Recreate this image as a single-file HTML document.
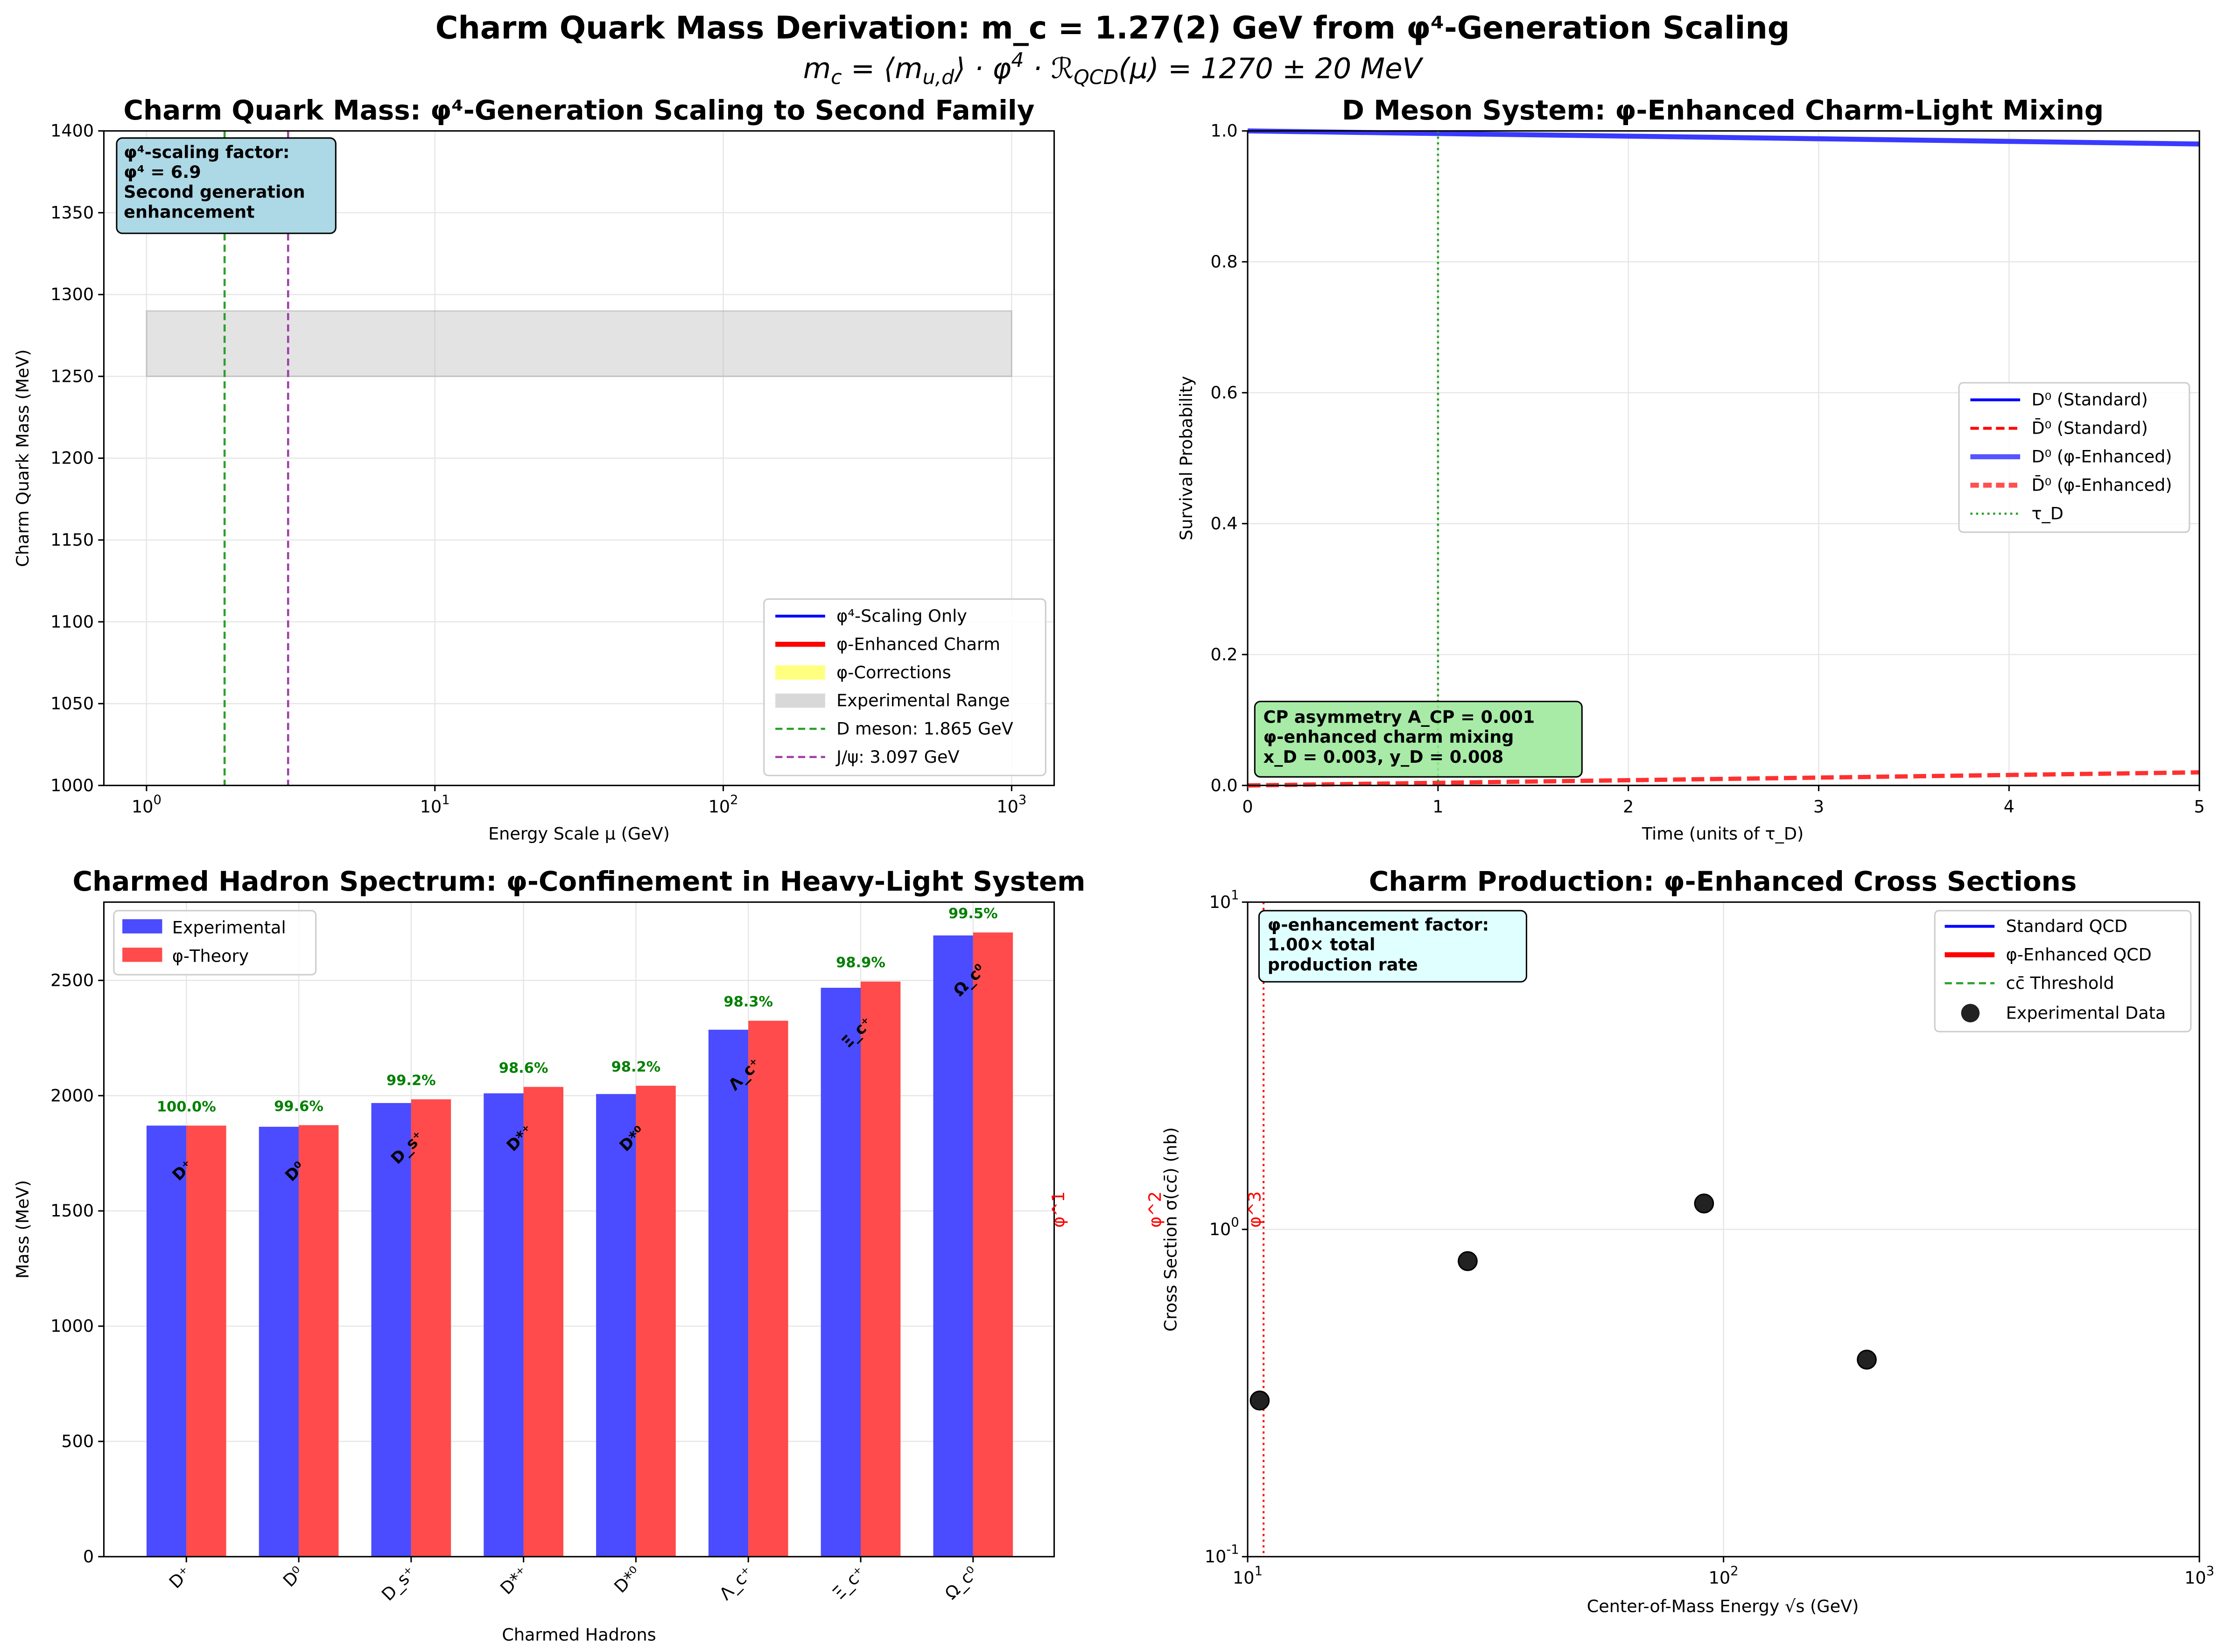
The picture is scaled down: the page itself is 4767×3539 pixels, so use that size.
<!DOCTYPE html>
<html><head><meta charset="utf-8"><style>
html,body{margin:0;padding:0;background:#fff}
svg{display:block}
text{font-family:"DejaVu Sans","Liberation Sans",sans-serif}
</style></head><body>
<svg id="fig" width="4767" height="3539" viewBox="0 0 1564 1161" preserveAspectRatio="none" xmlns="http://www.w3.org/2000/svg">
<rect width="1564" height="1161" fill="#fff"/>
<text x="782" y="27" text-anchor="middle" font-size="21.8" font-weight="bold">Charm Quark Mass Derivation: m_c = 1.27(2) GeV from φ⁴-Generation Scaling</text>
<text x="782" y="55" text-anchor="middle" font-size="20" font-style="italic" font-family="DejaVu Serif,serif">m<tspan font-size="14" dy="4">c</tspan><tspan dy="-4"> = ⟨m</tspan><tspan font-size="14" dy="4">u,d</tspan><tspan dy="-4">⟩ · φ</tspan><tspan font-size="14" dy="-8">4</tspan><tspan dy="8"> · ℛ</tspan><tspan font-size="14" dy="4">QCD</tspan><tspan dy="-4">(μ) = 1270 ± 20 MeV</tspan></text>
<g id="p1"></g>
<g id="p2"></g>
<g id="p3"></g>
<g id="p4"></g>
</svg>
<script>
// Panel 1 data
const p1Band = [1250, 1290];
const p1Lines = [1.865, 3.097];
const p1YTicks = [1000,1050,1100,1150,1200,1250,1300,1350,1400];
// Panel 2 data
const p2Times = [0,1,2,3,4,5];
const p2Survival = [1.0,0.996,0.992,0.988,0.984,0.980];
const p2Mixed = [0.0,0.004,0.008,0.012,0.016,0.020];
const p2YTicks = [0,0.2,0.4,0.6,0.8,1.0];
// Panel 3 data
const p3Cats = ["D⁺","D⁰","D_s⁺","D*⁺","D*⁰","Λ_c⁺","Ξ_c⁺","Ω_c⁰"];
const p3Exp = [1870,1865,1968,2010,2007,2286,2468,2695];
const p3Theory = [1870,1872,1984,2038,2043,2325,2495,2708];
const p3Pct = ["100.0%","99.6%","99.2%","98.6%","98.2%","98.3%","98.9%","99.5%"];
const p3YTicks = [0,500,1000,1500,2000,2500];
// Panel 4 data
const p4Energy = [10.6,29,91,200];
const p4Sigma = [0.3,0.8,1.2,0.4];
const p4Threshold = 10.8;

const TS=19;
const NS="http://www.w3.org/2000/svg";
function mk(parent,tag,attrs,txt){const e=document.createElementNS(NS,tag);for(const k in attrs)e.setAttribute(k,attrs[k]);if(txt!==undefined)e.textContent=txt;parent.appendChild(e);return e;}
function frame(g,x0,y0,x1,y1){const r=mk(g,'rect',{x:x0,y:y0,width:x1-x0,height:y1-y0,fill:'none',stroke:'#000','stroke-width':1});}
function grid(g,x1,y1,x2,y2){mk(g,'line',{x1:x1,y1:y1,x2:x2,y2:y2,stroke:'#e6e6e6','stroke-width':0.8});}

// ---------- Panel 1 ----------
(function(){
const g=document.getElementById('p1');const L=73,R=741,T=92,B=552;
const X=v=>103+Math.log10(v)*202.7;const Y=v=>B-(v-1000)/400*(B-T);
p1YTicks.forEach(t=>{grid(g,L,Y(t),R,Y(t));mk(g,'line',{x1:L-4,y1:Y(t),x2:L,y2:Y(t),stroke:'#000'});const e=mk(g,'text',{x:L-7,y:Y(t)+4,'text-anchor':'end','font-size':12},t);});
[0,1,2,3].forEach(p=>{const x=X(Math.pow(10,p));grid(g,x,T,x,B);mk(g,'line',{x1:x,y1:B,x2:x,y2:B+4,stroke:'#000'});const e=mk(g,'text',{x:x,y:B+19,'text-anchor':'middle','font-size':12});e.innerHTML='10<tspan font-size="9" dy="-6">'+p+'</tspan>';});
const band=mk(g,'rect',{x:X(1),y:Y(p1Band[1]),width:X(1000)-X(1),height:Y(p1Band[0])-Y(p1Band[1]),fill:'#b0b0b0','fill-opacity':0.35,stroke:'#999','stroke-opacity':0.4});
const cols=['#2ca02c','#a040a8'];
p1Lines.forEach((v,i)=>{const l=mk(g,'line',{x1:X(v),y1:T,x2:X(v),y2:B,stroke:cols[i],'stroke-width':1.5,'stroke-dasharray':'5,3'});});
frame(g,L,T,R,B);
mk(g,'text',{x:407,y:84,'text-anchor':'middle','font-size':TS,'font-weight':'bold'},'Charm Quark Mass: φ⁴-Generation Scaling to Second Family');
mk(g,'text',{x:407,y:590,'text-anchor':'middle','font-size':12},'Energy Scale μ (GeV)');
mk(g,'text',{x:20,y:322,'text-anchor':'middle','font-size':12,transform:'rotate(-90 20 322)'},'Charm Quark Mass (MeV)');
const ab=mk(g,'g',{});
mk(ab,'rect',{x:82,y:97,width:154,height:67,rx:4,fill:'#add8e6',stroke:'#000','stroke-width':1});
['φ⁴-scaling factor:','φ⁴ = 6.9','Second generation','enhancement'].forEach((s,i)=>mk(ab,'text',{x:87,y:111+i*14,'font-size':12,'font-weight':'bold'},s));
const lg=mk(g,'g',{});
mk(lg,'rect',{x:537,y:421,width:198,height:124,rx:3,fill:'#fff','fill-opacity':0.85,stroke:'#ccc'});
const items=[['line','#0000ff',2,''],['line','#ff0000',3.5,''],['patch','#ffff80'],['patch','#d8d8d8'],['line','#2ca02c',1.5,'5,3'],['line','#a040a8',1.5,'5,3']];
const labs=['φ⁴-Scaling Only','φ-Enhanced Charm','φ-Corrections','Experimental Range','D meson: 1.865 GeV','J/ψ: 3.097 GeV'];
items.forEach((it,i)=>{const y=433+i*19.8;if(it[0]==='line')mk(lg,'line',{x1:545,y1:y,x2:580,y2:y,stroke:it[1],'stroke-width':it[2],'stroke-dasharray':it[3]||'none'});else mk(lg,'rect',{x:545,y:y-5,width:35,height:10,fill:it[1]});mk(lg,'text',{x:588,y:y+4,'font-size':12},labs[i]);});
})();

// ---------- Panel 2 ----------
(function(){
const g=document.getElementById('p2');const L=877,R=1546,T=92,B=552;
const X=v=>L+v/5*(R-L);const Y=v=>B-v*(B-T);
p2YTicks.forEach(t=>{grid(g,L,Y(t),R,Y(t));mk(g,'line',{x1:L-4,y1:Y(t),x2:L,y2:Y(t),stroke:'#000'});mk(g,'text',{x:L-7,y:Y(t)+4,'text-anchor':'end','font-size':12},t.toFixed(1));});
p2Times.forEach(t=>{grid(g,X(t),T,X(t),B);mk(g,'line',{x1:X(t),y1:B,x2:X(t),y2:B+4,stroke:'#000'});mk(g,'text',{x:X(t),y:B+19,'text-anchor':'middle','font-size':12},t);});
const pts=a=>a.map((v,i)=>X(p2Times[i])+','+Y(v)).join(' ');
let e=mk(g,'polyline',{points:pts(p2Survival),fill:'none',stroke:'#3a3aff','stroke-width':3.5});
e=mk(g,'polyline',{points:pts(p2Mixed),fill:'none',stroke:'#ff3030','stroke-width':3,'stroke-dasharray':'9,4'});
e=mk(g,'line',{x1:X(1),y1:T,x2:X(1),y2:B,stroke:'#2ca02c','stroke-width':1.5,'stroke-dasharray':'1.5,2.5'});
frame(g,L,T,R,B);
mk(g,'text',{x:1211,y:84,'text-anchor':'middle','font-size':TS,'font-weight':'bold'},'D Meson System: φ-Enhanced Charm-Light Mixing');
mk(g,'text',{x:1211,y:590,'text-anchor':'middle','font-size':12},'Time (units of τ_D)');
mk(g,'text',{x:838,y:322,'text-anchor':'middle','font-size':12,transform:'rotate(-90 838 322)'},'Survival Probability');
const lg=mk(g,'g',{});
mk(lg,'rect',{x:1377,y:269,width:162,height:105,rx:3,fill:'#fff','fill-opacity':0.85,stroke:'#ccc'});
const st=[['#0000ff',2,''],['#ff0000',2,'6,3'],['#5555ff',3.5,''],['#ff5050',3.5,'6,3'],['#2ca02c',1.5,'1.5,2.5']];
const lb=['D⁰ (Standard)','D̄⁰ (Standard)','D⁰ (φ-Enhanced)','D̄⁰ (φ-Enhanced)','τ_D'];
st.forEach((s,i)=>{const y=281+i*20;mk(lg,'line',{x1:1385,y1:y,x2:1420,y2:y,stroke:s[0],'stroke-width':s[1],'stroke-dasharray':s[2]||'none'});mk(lg,'text',{x:1428,y:y+4,'font-size':12},lb[i]);});
const ab=mk(g,'g',{});
mk(ab,'rect',{x:882,y:493,width:230,height:53,rx:4,fill:'#98e898','fill-opacity':0.85,stroke:'#000'});
['CP asymmetry A_CP = 0.001','φ-enhanced charm mixing','x_D = 0.003, y_D = 0.008'].forEach((s,i)=>mk(ab,'text',{x:888,y:508+i*14,'font-size':12,'font-weight':'bold'},s));
})();

// ---------- Panel 3 ----------
(function(){
const g=document.getElementById('p3');const L=73,R=741,T=634,B=1094;
const Y=v=>B-v*0.162;const C=i=>131+i*79;const w=28;
p3YTicks.forEach(t=>{grid(g,L,Y(t),R,Y(t));mk(g,'line',{x1:L-4,y1:Y(t),x2:L,y2:Y(t),stroke:'#000'});mk(g,'text',{x:L-7,y:Y(t)+4,'text-anchor':'end','font-size':12},t);});
p3Cats.forEach((c,i)=>{
 grid(g,C(i),T,C(i),B);
 let b=mk(g,'rect',{x:C(i)-w,y:Y(p3Exp[i]),width:w,height:B-Y(p3Exp[i]),fill:'#4b4bff'});
 b=mk(g,'rect',{x:C(i),y:Y(p3Theory[i]),width:w,height:B-Y(p3Theory[i]),fill:'#ff4b4b'});
 const top=Math.max(p3Exp[i],p3Theory[i]);
 mk(g,'text',{x:C(i),y:Y(top)-10,'text-anchor':'middle','font-size':10,'font-weight':'bold',fill:'#008000'},p3Pct[i]);
 const ly=Y(p3Exp[i])+34;mk(g,'text',{x:C(i),y:ly,'text-anchor':'middle','font-size':11,'font-weight':'bold',transform:'rotate(-45 '+C(i)+' '+ly+')'},c);
 mk(g,'line',{x1:C(i),y1:B,x2:C(i),y2:B+4,stroke:'#000'});
 const tx=C(i)+4,ty=B+12;mk(g,'text',{x:tx,y:ty,'text-anchor':'end','font-size':12,transform:'rotate(-45 '+tx+' '+ty+')'},c);
});
frame(g,L,T,R,B);
mk(g,'text',{x:407,y:626,'text-anchor':'middle','font-size':TS,'font-weight':'bold'},'Charmed Hadron Spectrum: φ-Confinement in Heavy-Light System');
mk(g,'text',{x:407,y:1153,'text-anchor':'middle','font-size':12},'Charmed Hadrons');
mk(g,'text',{x:20,y:864,'text-anchor':'middle','font-size':12,transform:'rotate(-90 20 864)'},'Mass (MeV)');
mk(g,'text',{x:748,y:850,'text-anchor':'middle','font-size':12,fill:'#ff0000',transform:'rotate(-90 748 850)'},'φ^1');
const lg=mk(g,'g',{});
mk(lg,'rect',{x:80,y:640,width:142,height:45,rx:3,fill:'#fff','fill-opacity':0.85,stroke:'#ccc'});
mk(lg,'rect',{x:86,y:646,width:28,height:10,fill:'#4b4bff'});mk(lg,'text',{x:121,y:656,'font-size':12},'Experimental');
mk(lg,'rect',{x:86,y:666,width:28,height:10,fill:'#ff4b4b'});mk(lg,'text',{x:121,y:676,'font-size':12},'φ-Theory');
})();

// ---------- Panel 4 ----------
(function(){
const g=document.getElementById('p4');const L=877,R=1546,T=634,B=1094;
const X=v=>L+(Math.log10(v)-1)*334.5;const Y=v=>B-(Math.log10(v)+1)*230;
[-1,0,1].forEach(p=>{const y=Y(Math.pow(10,p));grid(g,L,y,R,y);mk(g,'line',{x1:L-4,y1:y,x2:L,y2:y,stroke:'#000'});const e=mk(g,'text',{x:L-6,y:y+4,'text-anchor':'end','font-size':12});e.innerHTML='10<tspan font-size="9" dy="-6">'+p+'</tspan>';});
[1,2,3].forEach(p=>{const x=X(Math.pow(10,p));grid(g,x,T,x,B);mk(g,'line',{x1:x,y1:B,x2:x,y2:B+4,stroke:'#000'});const e=mk(g,'text',{x:x,y:B+19,'text-anchor':'middle','font-size':12});e.innerHTML='10<tspan font-size="9" dy="-6">'+p+'</tspan>';});
let e=mk(g,'line',{x1:X(p4Threshold),y1:T,x2:X(p4Threshold),y2:B,stroke:'#ff0000','stroke-width':1.3,'stroke-dasharray':'1.5,2.5'});
p4Energy.forEach((v,i)=>{const c=mk(g,'circle',{cx:X(v),cy:Y(p4Sigma[i]),r:6.5,fill:'#222',stroke:'#000'});});
frame(g,L,T,R,B);
mk(g,'text',{x:1211,y:626,'text-anchor':'middle','font-size':TS,'font-weight':'bold'},'Charm Production: φ-Enhanced Cross Sections');
mk(g,'text',{x:1211,y:1133,'text-anchor':'middle','font-size':12},'Center-of-Mass Energy √s (GeV)');
mk(g,'text',{x:827,y:864,'text-anchor':'middle','font-size':12,transform:'rotate(-90 827 864)'},'Cross Section σ(cc̄) (nb)');
mk(g,'text',{x:816,y:850,'text-anchor':'middle','font-size':12,fill:'#ff0000',transform:'rotate(-90 816 850)'},'φ^2');
mk(g,'text',{x:886,y:850,'text-anchor':'middle','font-size':12,fill:'#ff0000',transform:'rotate(-90 886 850)'},'φ^3');
const ab=mk(g,'g',{});
mk(ab,'rect',{x:885,y:640,width:188,height:50,rx:4,fill:'#e0ffff',stroke:'#000'});
['φ-enhancement factor:','1.00× total','production rate'].forEach((s,i)=>mk(ab,'text',{x:891,y:654+i*14,'font-size':12,'font-weight':'bold'},s));
const lg=mk(g,'g',{});
mk(lg,'rect',{x:1360,y:640,width:180,height:85,rx:3,fill:'#fff','fill-opacity':0.85,stroke:'#ccc'});
const ls=[['#0000ff',2,''],['#ff0000',3.5,''],['#2ca02c',1.5,'5,3']];const lb=['Standard QCD','φ-Enhanced QCD','cc̄ Threshold'];
ls.forEach((s,i)=>{const y=651+i*20;mk(lg,'line',{x1:1367,y1:y,x2:1402,y2:y,stroke:s[0],'stroke-width':s[1],'stroke-dasharray':s[2]||'none'});mk(lg,'text',{x:1410,y:y+4,'font-size':12},lb[i]);});
mk(lg,'circle',{cx:1385,cy:712,r:6.5,fill:'#222'});mk(lg,'text',{x:1410,y:716,'font-size':12},'Experimental Data');
})();
</script>
</body></html>
